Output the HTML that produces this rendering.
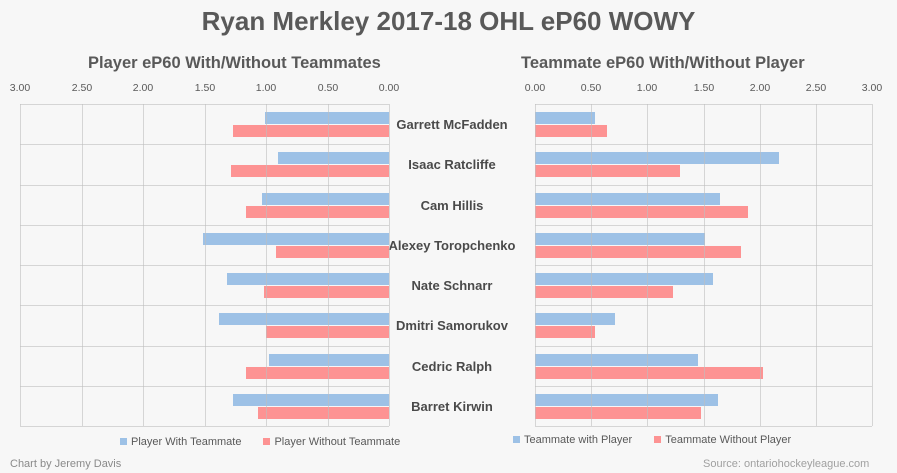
<!DOCTYPE html>
<html><head><meta charset="utf-8"><style>
body{margin:0;width:897px;height:473px;background:#f7f7f7;font-family:"Liberation Sans",sans-serif;position:relative;overflow:hidden}
div{position:absolute}
.t{white-space:nowrap}
.g{background:rgba(190,190,190,0.6)}
.b{background:#9dc1e6}.r{background:#fd9393}
.tick{font-size:10.5px;color:#595959;top:82px;width:40px;text-align:center}
.nm{font-size:13px;font-weight:bold;color:#4a4a4a;width:140px;text-align:center;left:382px}
</style></head><body>
<div class="t" style="left:0;width:897px;text-align:center;top:6px;font-size:26px;font-weight:bold;color:#595959">Ryan Merkley 2017-18 OHL eP60 WOWY</div>
<div class="t" style="left:88px;top:54px;font-size:16.5px;font-weight:bold;color:#595959">Player eP60 With/Without Teammates</div>
<div class="t" style="left:521px;top:54px;font-size:16.5px;font-weight:bold;color:#595959">Teammate eP60 With/Without Player</div>
<div id="c"></div>
<div class="t" style="left:120px;top:436px;font-size:11px;color:#595959"><span style="display:inline-block;width:7px;height:7px;background:#9dc1e6;margin-right:4px"></span>Player With Teammate<span style="display:inline-block;width:7px;height:7px;background:#fd9393;margin:0 4px 0 22px"></span>Player Without Teammate</div>
<div class="t" style="left:513px;top:434px;font-size:11px;color:#595959"><span style="display:inline-block;width:7px;height:7px;background:#9dc1e6;margin-right:4px"></span>Teammate with Player<span style="display:inline-block;width:7px;height:7px;background:#fd9393;margin:0 4px 0 22px"></span>Teammate Without Player</div>
<div class="t" style="left:10px;top:458px;font-size:11px;color:#8a8a8a">Chart by Jeremy Davis</div>
<div class="t" style="left:703px;top:458px;font-size:11px;color:#a0a0a0">Source: ontariohockeyleague.com</div>
<script>
(function(){
var names=["Garrett McFadden","Isaac Ratcliffe","Cam Hillis","Alexey Toropchenko","Nate Schnarr","Dmitri Samorukov","Cedric Ralph","Barret Kirwin"];
var L=[[265,233],[278,231],[262,246],[203,276],[227,264],[219,266],[269,246],[233,258]];
var R=[[595,607],[779,680],[720,748],[705,741],[713,673],[615,595],[698,763],[718,701]];
var h="",T0=104,rh=40.25;
for(var i=0;i<8;i++){var y=T0+i*rh;
h+='<div class="b" style="left:'+L[i][0]+'px;width:'+(389-L[i][0])+'px;top:'+(y+8)+'px;height:12px"></div>';
h+='<div class="r" style="left:'+L[i][1]+'px;width:'+(389-L[i][1])+'px;top:'+(y+21)+'px;height:12px"></div>';
h+='<div class="b" style="left:535px;width:'+(R[i][0]-535)+'px;top:'+(y+8)+'px;height:12px"></div>';
h+='<div class="r" style="left:535px;width:'+(R[i][1]-535)+'px;top:'+(y+21)+'px;height:12px"></div>';
h+='<div class="t nm" style="top:'+(y+13)+'px">'+names[i]+'</div>';}
for(var i=0;i<=8;i++){var y=Math.round(T0+i*rh);
h+='<div class="g" style="left:20px;width:369px;top:'+y+'px;height:1px"></div>';
h+='<div class="g" style="left:535px;width:337px;top:'+y+'px;height:1px"></div>';}
var lt=["3.00","2.50","2.00","1.50","1.00","0.50","0.00"];
for(var k=0;k<=6;k++){var xl=Math.round(20+k*61.5),xr=Math.round(535+k*56.17);
h+='<div class="g" style="left:'+xl+'px;width:1px;top:104px;height:322px"></div>';
h+='<div class="g" style="left:'+xr+'px;width:1px;top:104px;height:322px"></div>';
h+='<div class="t tick" style="left:'+(xl-20)+'px">'+lt[k]+'</div>';
h+='<div class="t tick" style="left:'+(xr-20)+'px">'+lt[6-k]+'</div>';}
document.getElementById("c").outerHTML=h;
})();
</script>
</body></html>
